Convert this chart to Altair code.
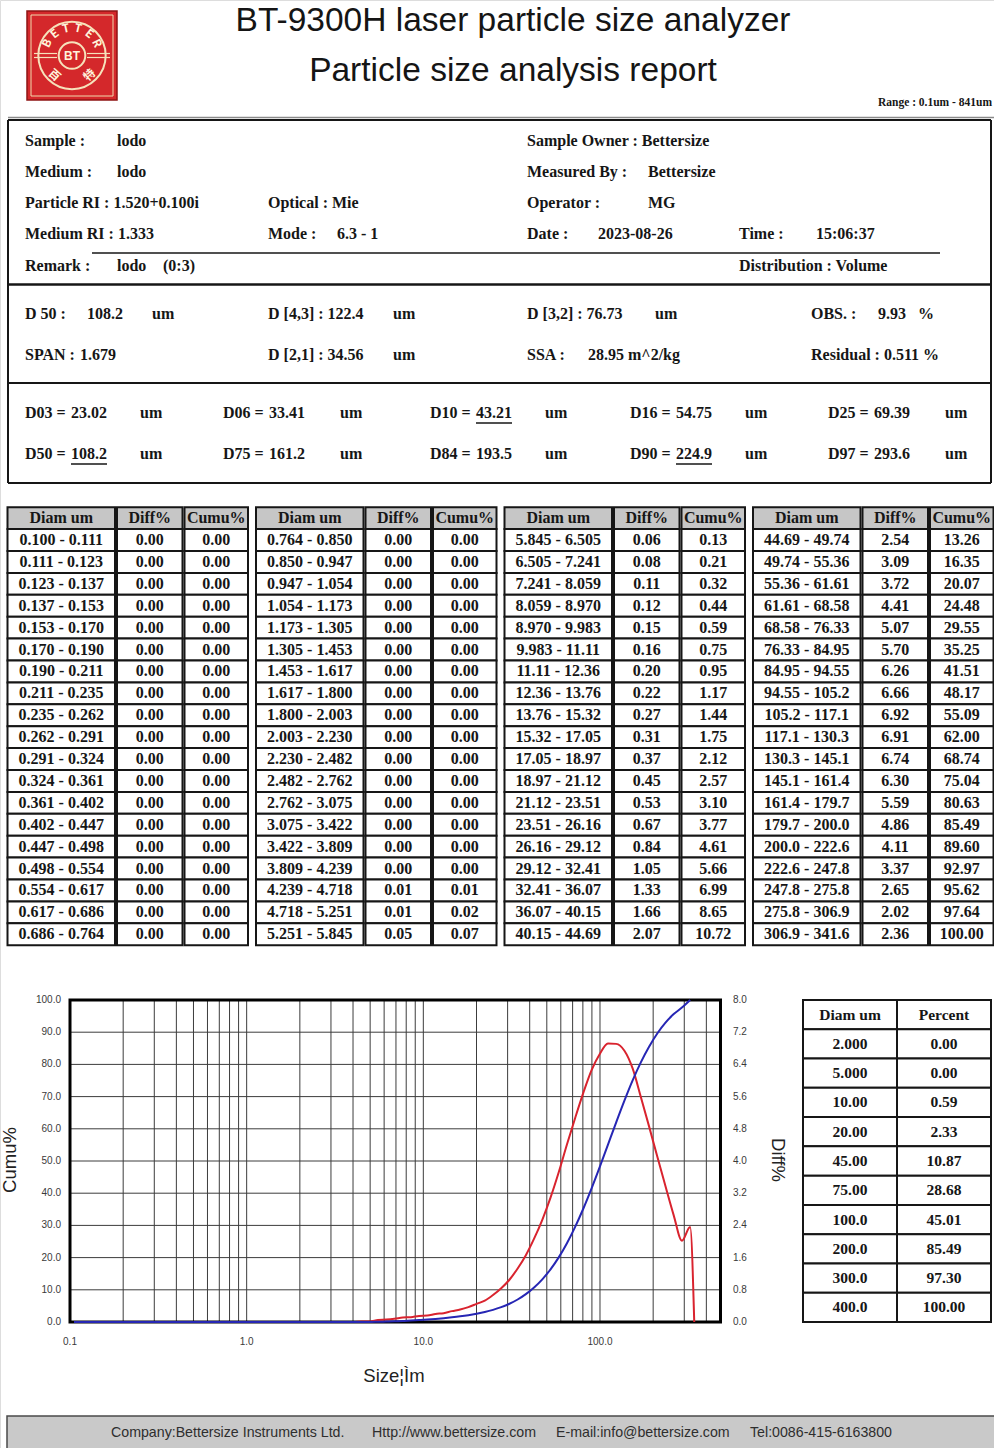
import math
import numpy as np
import pandas as pd
import altair as alt

SERIF = "Liberation Serif"
SANS = "Liberation Sans"
CJK = "Noto Sans CJK SC"
INK = "#161616"

# ---------------- report content ----------------
TITLE_LINES = ["BT-9300H laser particle size analyzer", "Particle size analysis report"]
RANGE_TEXT = "Range : 0.1um - 841um"
LOGO_WORD = "BETTER"
LOGO_CENTER_TEXT = "BT"
LOGO_CJK = ["百", "特"]

# size class edges (um) of the 76 channels
BIN_EDGES = [
    "0.100", "0.111", "0.123", "0.137", "0.153", "0.170", "0.190", "0.211", "0.235", "0.262",
    "0.291", "0.324", "0.361", "0.402", "0.447", "0.498", "0.554", "0.617", "0.686", "0.764",
    "0.850", "0.947", "1.054", "1.173", "1.305", "1.453", "1.617", "1.800", "2.003", "2.230",
    "2.482", "2.762", "3.075", "3.422", "3.809", "4.239", "4.718", "5.251", "5.845", "6.505",
    "7.241", "8.059", "8.970", "9.983", "11.11", "12.36", "13.76", "15.32", "17.05", "18.97",
    "21.12", "23.51", "26.16", "29.12", "32.41", "36.07", "40.15", "44.69", "49.74", "55.36",
    "61.61", "68.58", "76.33", "84.95", "94.55", "105.2", "117.1", "130.3", "145.1", "161.4",
    "179.7", "200.0", "222.6", "247.8", "275.8", "306.9", "341.6",
]
DIFF = [
    0.00, 0.00, 0.00, 0.00, 0.00, 0.00, 0.00, 0.00, 0.00, 0.00, 0.00, 0.00, 0.00, 0.00, 0.00, 0.00, 0.00, 0.00, 0.00,
    0.00, 0.00, 0.00, 0.00, 0.00, 0.00, 0.00, 0.00, 0.00, 0.00, 0.00, 0.00, 0.00, 0.00, 0.00, 0.00, 0.01, 0.01, 0.05,
    0.06, 0.08, 0.11, 0.12, 0.15, 0.16, 0.20, 0.22, 0.27, 0.31, 0.37, 0.45, 0.53, 0.67, 0.84, 1.05, 1.33, 1.66, 2.07,
    2.54, 3.09, 3.72, 4.41, 5.07, 5.70, 6.26, 6.66, 6.92, 6.91, 6.74, 6.30, 5.59, 4.86, 4.11, 3.37, 2.65, 2.02, 2.36,
]
CUMU = [
    0.00, 0.00, 0.00, 0.00, 0.00, 0.00, 0.00, 0.00, 0.00, 0.00, 0.00, 0.00, 0.00, 0.00, 0.00, 0.00, 0.00, 0.00, 0.00,
    0.00, 0.00, 0.00, 0.00, 0.00, 0.00, 0.00, 0.00, 0.00, 0.00, 0.00, 0.00, 0.00, 0.00, 0.00, 0.00, 0.01, 0.02, 0.07,
    0.13, 0.21, 0.32, 0.44, 0.59, 0.75, 0.95, 1.17, 1.44, 1.75, 2.12, 2.57, 3.10, 3.77, 4.61, 5.66, 6.99, 8.65, 10.72,
    13.26, 16.35, 20.07, 24.48, 29.55, 35.25, 41.51, 48.17, 55.09, 62.00, 68.74, 75.04, 80.63, 85.49, 89.60, 92.97,
    95.62, 97.64, 100.00,
]
TABLE_HEADERS = ["Diam um", "Diff%", "Cumu%"]

POINT_HEADERS = ["Diam um", "Percent"]
POINT_DIAM = ["2.000", "5.000", "10.00", "20.00", "45.00", "75.00", "100.0", "200.0", "300.0", "400.0"]
POINT_PERCENT = [0.00, 0.00, 0.59, 2.33, 10.87, 28.68, 45.01, 85.49, 97.30, 100.00]

PCT_NAMES = ["D03", "D06", "D10", "D16", "D25", "D50", "D75", "D84", "D90", "D97"]
PCT_VALUES = ["23.02", "33.41", "43.21", "54.75", "69.39", "108.2", "161.2", "193.5", "224.9", "293.6"]
PCT_UNDERLINED = ["D10", "D50", "D90"]

CUMU_TICKS = [0, 10, 20, 30, 40, 50, 60, 70, 80, 90, 100]
DIFF_TICKS = [0.0, 0.8, 1.6, 2.4, 3.2, 4.0, 4.8, 5.6, 6.4, 7.2, 8.0]
SIZE_TICKS = [0.1, 1.0, 10.0, 100.0]
SIZE_TICK_LABELS = ["0.1", "1.0", "10.0", "100.0"]
SIZE_GRID = [0.2, 0.3, 0.4, 0.5, 0.6, 0.7, 0.8, 0.9, 1, 2, 3, 4, 5, 6, 7, 8, 9,
             10, 20, 30, 40, 50, 60, 70, 80, 90, 100, 200, 300, 400]
SIZE_MAX = 481

FOOTER_PARTS = ["Company:Bettersize Instruments Ltd.", "Http://www.bettersize.com",
                "E-mail:info@bettersize.com", "Tel:0086-415-6163800"]

# ---------------- helpers ----------------
NOSCALE_X = dict(scale=None, axis=None)


def text_layer(rows, size, font=SERIF, weight="bold", color=INK, align="left", baseline="middle"):
    df = pd.DataFrame(rows, columns=["t", "x", "y"])
    return alt.Chart(df).mark_text(
        font=font, fontSize=size, fontWeight=weight, color=color, align=align, baseline=baseline
    ).encode(x=alt.X("x:Q", **NOSCALE_X), y=alt.Y("y:Q", **NOSCALE_X), text="t:N")


def segments(rows):
    df = pd.DataFrame(rows, columns=["x0", "y0", "x1", "y1", "w", "c"])
    return alt.Chart(df).mark_rule().encode(
        x=alt.X("x0:Q", **NOSCALE_X), x2="x1:Q",
        y=alt.Y("y0:Q", **NOSCALE_X), y2="y1:Q",
        strokeWidth=alt.StrokeWidth("w:Q", scale=None),
        color=alt.Color("c:N", scale=None),
    )


layers = []

# ---------------- header ----------------
layers.append(segments([(8, 117.5, 994, 117.5, 1.5, "#8a8a8a")]))

logo_box = pd.DataFrame([{"x0": 27, "x1": 117, "y0": 11, "y1": 100}])
layers.append(alt.Chart(logo_box).mark_rect(fill="#d4282b", stroke="#8f1414", strokeWidth=1.5).encode(
    x=alt.X("x0:Q", **NOSCALE_X), x2="x1:Q", y=alt.Y("y0:Q", **NOSCALE_X), y2="y1:Q"))
logo_inner = pd.DataFrame([{"x0": 31, "x1": 113, "y0": 15, "y1": 96}])
layers.append(alt.Chart(logo_inner).mark_rect(fillOpacity=0, stroke="#f1d9ad", strokeWidth=1).encode(
    x=alt.X("x0:Q", **NOSCALE_X), x2="x1:Q", y=alt.Y("y0:Q", **NOSCALE_X), y2="y1:Q"))
rings = pd.DataFrame([{"x": 72, "y": 55.5, "s": math.pi * 38 ** 2}, {"x": 72, "y": 55.5, "s": math.pi * 15 ** 2}])
layers.append(alt.Chart(rings).mark_point(shape="circle", filled=False, color="#f6e2bb", strokeWidth=2, opacity=1).encode(
    x=alt.X("x:Q", **NOSCALE_X), y=alt.Y("y:Q", **NOSCALE_X), size=alt.Size("s:Q", scale=None)))
layers.append(segments([
    (34, 53.5, 57, 53.5, 1.2, "#f6e2bb"), (34, 57.5, 57, 57.5, 1.2, "#f6e2bb"),
    (87, 53.5, 110, 53.5, 1.2, "#f6e2bb"), (87, 57.5, 110, 57.5, 1.2, "#f6e2bb"),
]))
layers.append(text_layer([(LOGO_CENTER_TEXT, 72, 56)], 12, font=SANS, color="#fff4dc", align="center"))
letters = []
for ch, deg in zip(LOGO_WORD, np.linspace(-64, 64, len(LOGO_WORD))):
    rad = math.radians(deg)
    letters.append({"t": ch, "x": 72 + 27 * math.sin(rad), "y": 55.5 - 27 * math.cos(rad), "a": deg % 360})
for ch, deg in zip(LOGO_CJK, [-138, 138]):
    rad = math.radians(deg)
    letters.append({"t": ch, "x": 72 + 27 * math.sin(rad), "y": 55.5 - 27 * math.cos(rad), "a": (deg + 180) % 360})
layers.append(alt.Chart(pd.DataFrame(letters)).mark_text(
    font=CJK, fontSize=11.5, fontWeight="bold", color="#fff4dc", baseline="middle", align="center"
).encode(x=alt.X("x:Q", **NOSCALE_X), y=alt.Y("y:Q", **NOSCALE_X), text="t:N",
         angle=alt.Angle("a:Q", scale=None)))

layers.append(text_layer([(TITLE_LINES[0], 513, 31), (TITLE_LINES[1], 513, 81)], 33.5, font=SANS,
                         weight="normal", color="#151515", align="center", baseline="alphabetic"))
layers.append(text_layer([(RANGE_TEXT, 992, 103)], 11.5, align="right"))

# ---------------- information boxes ----------------
layers.append(segments([
    (8, 120, 991, 120, 2, INK), (8, 284.5, 991, 284.5, 2.5, INK), (8, 383, 991, 383, 2, INK),
    (8, 483, 991, 483, 2, INK), (8, 120, 8, 483, 2, INK), (991, 120, 991, 483, 2, INK),
    (92, 253, 940, 253, 1.5, INK),
]))

info_rows = [
    ("Sample :", 25, 141), ("lodo", 117, 141),
    ("Medium :", 25, 172), ("lodo", 117, 172),
    ("Particle RI : 1.520+0.100i", 25, 203),
    ("Medium RI : 1.333", 25, 234),
    ("Remark :", 25, 266), ("lodo", 117, 266), ("(0:3)", 163, 266),
    ("Optical : Mie", 268, 203),
    ("Mode :", 268, 234), ("6.3 - 1", 337, 234),
    ("Sample Owner : Bettersize", 527, 141),
    ("Measured By :", 527, 172), ("Bettersize", 648, 172),
    ("Operator :", 527, 203), ("MG", 648, 203),
    ("Date :", 527, 234), ("2023-08-26", 598, 234),
    ("Time :", 739, 234), ("15:06:37", 816, 234),
    ("Distribution : Volume", 739, 266),
    ("D 50 :", 25, 314), ("108.2", 87, 314), ("um", 152, 314),
    ("SPAN :", 25, 355), ("1.679", 80, 355),
    ("D [4,3] : 122.4", 268, 314), ("um", 393, 314),
    ("D [2,1] : 34.56", 268, 355), ("um", 393, 355),
    ("D [3,2] : 76.73", 527, 314), ("um", 655, 314),
    ("SSA :", 527, 355), ("28.95", 588, 355), ("m^2/kg", 628, 355),
    ("OBS. :", 811, 314), ("9.93", 878, 314), ("%", 918, 314),
    ("Residual : 0.511 %", 811, 355),
]

pct_label_x = [25, 223, 430, 630, 828]
pct_unit_x = [140, 340, 545, 745, 945]
pct_row_y = [413, 454]
underlines = []
for i, (name, val) in enumerate(zip(PCT_NAMES, PCT_VALUES)):
    lx = pct_label_x[i % 5]
    ry = pct_row_y[i // 5]
    info_rows += [(f"{name} =", lx, ry), (val, lx + 46, ry), ("um", pct_unit_x[i % 5], ry)]
    if name in PCT_UNDERLINED:
        underlines.append((lx + 46, ry + 10, lx + 46 + 8 * len(val) - 4, ry + 10, 1.5, INK))
layers.append(text_layer(info_rows, 16))
layers.append(segments(underlines))

# ---------------- channel table ----------------
GROUP_W = 248.5
COLS = [(0, 107.5), (109.5, 175), (177, 240.5)]
TX = alt.Scale(domain=[0, 4], range=[7.5, 7.5 + 4 * GROUP_W], nice=False, zero=False)
TY = alt.Scale(domain=[0, 20], range=[507.2, 945.2], nice=False, zero=False)
cells = []
for g in range(4):
    for k in range(20):
        if k == 0:
            vals, fill = TABLE_HEADERS, "#c6c6c6"
        else:
            idx = g * 19 + (k - 1)
            vals = [f"{BIN_EDGES[idx]} - {BIN_EDGES[idx + 1]}", f"{DIFF[idx]:.2f}", f"{CUMU[idx]:.2f}"]
            fill = "#ffffff"
        for c, (a, b) in enumerate(COLS):
            cells.append({"x0": g + a / GROUP_W, "x1": g + b / GROUP_W, "xc": g + (a + b) / 2 / GROUP_W,
                          "y0": k, "y1": k + 1, "yc": k + 0.5, "t": vals[c], "fill": fill})
cells = pd.DataFrame(cells)
layers.append(alt.Chart(cells).mark_rect(stroke=INK, strokeWidth=2).encode(
    x=alt.X("x0:Q", scale=TX, axis=None), x2="x1:Q",
    y=alt.Y("y0:Q", scale=TY, axis=None), y2="y1:Q",
    fill=alt.Fill("fill:N", scale=None)))
layers.append(alt.Chart(cells).mark_text(font=SERIF, fontSize=16, fontWeight="bold", color=INK,
                                         align="center", baseline="middle").encode(
    x=alt.X("xc:Q", scale=TX, axis=None), y=alt.Y("yc:Q", scale=TY, axis=None), text="t:N"))

# ---------------- distribution plot ----------------
PX_LOG = alt.Scale(type="log", domain=[0.1, SIZE_MAX], range=[70, 720.5], nice=False)
CUMU_Y = alt.Scale(domain=[0, 100], range=[1322, 1000], nice=False, zero=False)
DIFF_Y = alt.Scale(domain=[0, 8], range=[1322, 1000], nice=False, zero=False)

vgrid = pd.DataFrame({"s": SIZE_GRID, "lo": 0, "hi": 100})
layers.append(alt.Chart(vgrid).mark_rule(color="#3c3c3c", strokeWidth=1).encode(
    x=alt.X("s:Q", scale=PX_LOG, axis=None), y=alt.Y("lo:Q", scale=CUMU_Y, axis=None), y2="hi:Q"))
hgrid = pd.DataFrame({"v": CUMU_TICKS[1:-1], "lo": 0.1, "hi": SIZE_MAX})
layers.append(alt.Chart(hgrid).mark_rule(color="#3c3c3c", strokeWidth=1).encode(
    x=alt.X("lo:Q", scale=PX_LOG, axis=None), x2="hi:Q", y=alt.Y("v:Q", scale=CUMU_Y, axis=None)))
frame = pd.DataFrame([{"x0": 0.1, "x1": SIZE_MAX, "y0": 0, "y1": 100}])
layers.append(alt.Chart(frame).mark_rect(fillOpacity=0, stroke="#000000", strokeWidth=3).encode(
    x=alt.X("x0:Q", scale=PX_LOG, axis=None), x2="x1:Q",
    y=alt.Y("y0:Q", scale=CUMU_Y, axis=None), y2="y1:Q"))

edges = np.array([float(e) for e in BIN_EDGES])
centers = np.sqrt(edges[:-1] * edges[1:])
diff_curve = pd.DataFrame({"s": list(centers) + [edges[-1]], "v": DIFF + [0.0]})
cumu_curve = pd.DataFrame({"s": centers, "v": CUMU})
layers.append(alt.Chart(diff_curve).mark_line(color="#d9232e", strokeWidth=2, interpolate="monotone").encode(
    x=alt.X("s:Q", scale=PX_LOG, axis=None), y=alt.Y("v:Q", scale=DIFF_Y, axis=None)))
layers.append(alt.Chart(cumu_curve).mark_line(color="#2626b4", strokeWidth=2, interpolate="monotone").encode(
    x=alt.X("s:Q", scale=PX_LOG, axis=None), y=alt.Y("v:Q", scale=CUMU_Y, axis=None)))

tick_font = dict(font=SANS, fontSize=10, color="#3a3a3a", baseline="middle")
layers.append(alt.Chart(pd.DataFrame({"v": CUMU_TICKS})).mark_text(align="right", **tick_font).encode(
    x=alt.value(61), y=alt.Y("v:Q", scale=CUMU_Y, axis=None), text=alt.Text("v:Q", format=".1f")))
layers.append(alt.Chart(pd.DataFrame({"v": DIFF_TICKS})).mark_text(align="left", **tick_font).encode(
    x=alt.value(733), y=alt.Y("v:Q", scale=DIFF_Y, axis=None), text=alt.Text("v:Q", format=".1f")))
layers.append(alt.Chart(pd.DataFrame({"v": SIZE_TICKS, "t": SIZE_TICK_LABELS})).mark_text(
    align="center", **tick_font).encode(
    x=alt.X("v:Q", scale=PX_LOG, axis=None), y=alt.value(1342), text="t:N"))

titles = pd.DataFrame([
    {"t": "Cumu%", "x": 10, "y": 1160, "a": 270},
    {"t": "Diff%", "x": 778, "y": 1160, "a": 90},
    {"t": "Size¦Ìm", "x": 394, "y": 1376, "a": 0},
])
layers.append(alt.Chart(titles).mark_text(font=SANS, fontSize=18.5, color="#222222", align="center",
                                          baseline="middle").encode(
    x=alt.X("x:Q", **NOSCALE_X), y=alt.Y("y:Q", **NOSCALE_X), text="t:N", angle=alt.Angle("a:Q", scale=None)))

# ---------------- selected sizes table ----------------
SX = alt.Scale(domain=[0, 2], range=[803, 991], nice=False, zero=False)
SY = alt.Scale(domain=[0, 11], range=[1000, 1322], nice=False, zero=False)
pcells = []
for k in range(11):
    vals = POINT_HEADERS if k == 0 else [POINT_DIAM[k - 1], f"{POINT_PERCENT[k - 1]:.2f}"]
    for c in range(2):
        pcells.append({"x0": c, "x1": c + 1, "xc": c + 0.5, "y0": k, "y1": k + 1, "yc": k + 0.5, "t": vals[c]})
pcells = pd.DataFrame(pcells)
layers.append(alt.Chart(pcells).mark_rect(fill="#ffffff", stroke=INK, strokeWidth=2).encode(
    x=alt.X("x0:Q", scale=SX, axis=None), x2="x1:Q", y=alt.Y("y0:Q", scale=SY, axis=None), y2="y1:Q"))
layers.append(alt.Chart(pcells).mark_text(font=SERIF, fontSize=15.5, fontWeight="bold", color=INK,
                                          align="center", baseline="middle").encode(
    x=alt.X("xc:Q", scale=SX, axis=None), y=alt.Y("yc:Q", scale=SY, axis=None), text="t:N"))

# ---------------- footer ----------------
footer_box = pd.DataFrame([{"x0": 7, "x1": 996, "y0": 1416, "y1": 1450}])
layers.append(alt.Chart(footer_box).mark_rect(fill="#c9c9c9", stroke="#4a4a4a", strokeWidth=1.5).encode(
    x=alt.X("x0:Q", **NOSCALE_X), x2="x1:Q", y=alt.Y("y0:Q", **NOSCALE_X), y2="y1:Q"))
layers.append(text_layer(list(zip(FOOTER_PARTS, [111, 372, 556, 750], [1433] * 4)), 14.2,
                         font=SANS, weight="normal", color="#2e2e2e"))

chart = alt.layer(*layers).resolve_scale(x="independent", y="independent").properties(
    width=994, height=1448, autosize=alt.AutoSizeParams(type="none"), padding=0
).configure_view(strokeWidth=0).configure(background="#ffffff")

chart.save("out.html", embed_options={"renderer": "svg", "actions": False})
